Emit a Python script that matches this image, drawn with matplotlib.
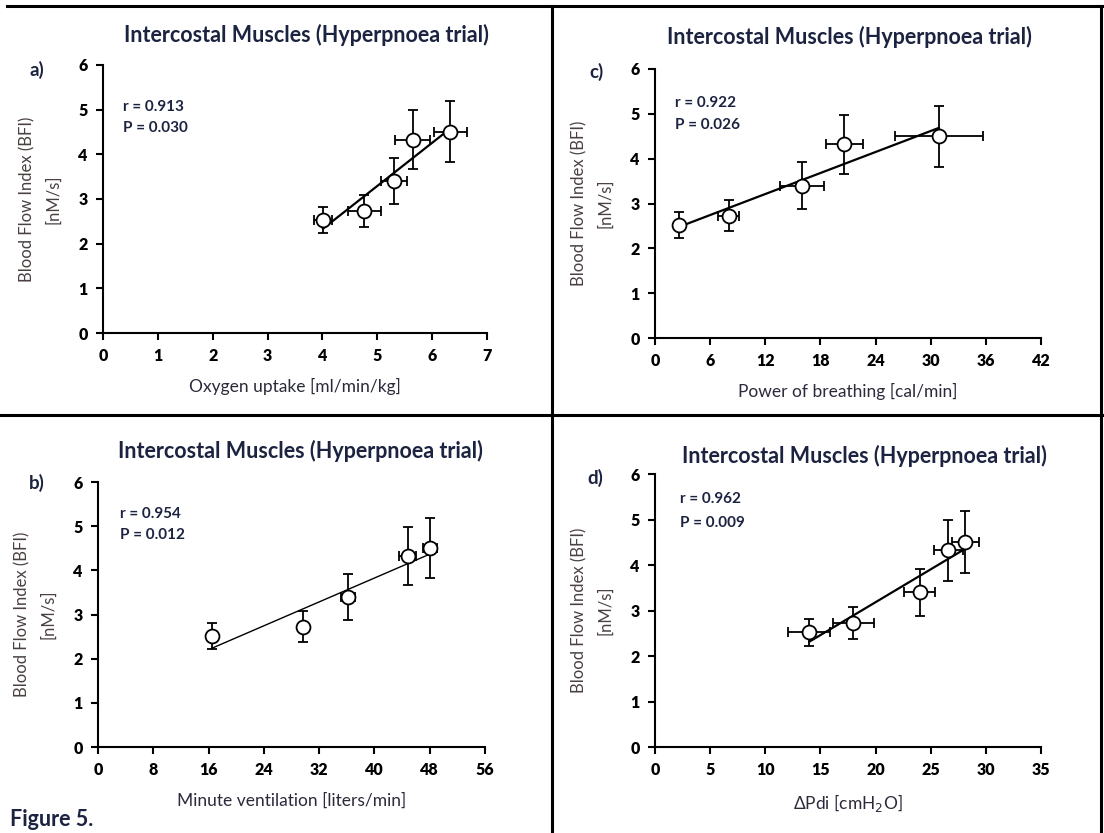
import numpy as np
import matplotlib.pyplot as plt
from matplotlib.lines import Line2D

plt.rcParams['font.family'] = ['Lato', 'DejaVu Sans']

# shared y data (Blood Flow Index)
bfi = [2.52, 2.73, 3.40, 4.32, 4.50]
bfi_err = [0.29, 0.35, 0.52, 0.66, 0.68]

# a) oxygen uptake
vo2 = [4.01, 4.76, 5.31, 5.65, 6.33]
vo2_err = [0.17, 0.30, 0.24, 0.32, 0.30]

# b) minute ventilation
ve = [16.5, 29.7, 36.2, 44.8, 48.1]
ve_err = [0.3, 0.3, 1.0, 1.2, 1.0]

# c) power of breathing
pob = [2.6, 8.0, 16.0, 20.6, 30.9]
pob_err = [0.4, 1.15, 2.35, 2.0, 4.8]

# d) delta Pdi
pdi = [14.0, 18.0, 24.0, 26.6, 28.15]
pdi_err = [1.9, 1.9, 1.4, 1.3, 1.25]

title = 'Intercostal Muscles (Hyperpnoea trial)'
navy = '#1c2340'

panels = [
    # letter, x, xerr, xlim, xticks, xlabel, r, P, axes rect, line width, text pos
    ('a)', vo2, vo2_err, 7, np.arange(0, 8, 1), 'Oxygen uptake [ml/min/kg]',
     'r = 0.913', 'P = 0.030', [0.0933, 0.6002, 0.3478, 0.322], 1.6, (0.052, 0.843, 0.765)),
    ('c)', pob, pob_err, 42, np.arange(0, 43, 6), 'Power of breathing [cal/min]',
     'r = 0.922', 'P = 0.026', [0.5933, 0.5942, 0.3496, 0.323], 1.6, (0.052, 0.874, 0.792)),
    ('b)', ve, ve_err, 56, np.arange(0, 57, 8), 'Minute ventilation [liters/min]',
     'r = 0.954', 'P = 0.012', [0.0888, 0.1032, 0.3505, 0.318], 1.0, (0.057, 0.879, 0.80)),
    ('d)', pdi, pdi_err, 35, np.arange(0, 36, 5), r'ΔPdi [cmH$_2$O]',
     'r = 0.962', 'P = 0.009', [0.5933, 0.1032, 0.3496, 0.3277], 1.6, (0.065, 0.908, 0.82)),
]

fig = plt.figure(figsize=(11.04, 8.33), dpi=100)

for letter, x, xerr, xmax, xticks, xlabel, rtxt, ptxt, rect, lw, tpos in panels:
    ax = fig.add_axes(rect)
    slope, icpt = np.polyfit(x, bfi, 1)
    xs = np.array([min(x), max(x)])
    ax.plot(xs, slope * xs + icpt, color='black', lw=lw, zorder=2)
    ax.errorbar(x, bfi, yerr=bfi_err, xerr=xerr, fmt='o', ms=10, mfc='white',
                mec='black', mew=1.3, ecolor='black', elinewidth=1.3,
                capsize=3.5, capthick=1.3, zorder=3)
    ax.set_xlim(0, xmax)
    ax.set_ylim(0, 6)
    ax.set_xticks(xticks)
    ax.set_yticks(range(7))
    for s in ['top', 'right']:
        ax.spines[s].set_visible(False)
    for s in ['left', 'bottom']:
        ax.spines[s].set_linewidth(1.5)
    ax.tick_params(direction='out', length=5, width=1.5, labelsize=11.5, pad=6)
    for lab in ax.get_xticklabels() + ax.get_yticklabels():
        lab.set_fontweight('heavy')
    ax.set_xlabel(xlabel, fontsize=12.5, color='#2a2a3a', labelpad=10)
    ax.set_ylabel('Blood Flow Index (BFI)\n[nM/s]', fontsize=12, color='#4a4040',
                  labelpad=12, linespacing=1.75)
    ax.text(tpos[0], tpos[1], rtxt, transform=ax.transAxes, fontsize=11,
            fontweight='bold', color=navy, va='center')
    ax.text(tpos[0], tpos[2], ptxt, transform=ax.transAxes, fontsize=11,
            fontweight='bold', color=navy, va='center')

# titles and panel letters (figure pixel positions)
W, H = 1104.0, 833.0
for tx, ty in [(306, 35), (849, 37), (300, 451), (864, 456)]:
    fig.text(tx / W, 1 - ty / H, title, ha='center', va='center', fontsize=15.5,
             fontweight='bold', color=navy)
for lt, lx, ly in [('a)', 37, 70), ('c)', 597, 72), ('b)', 37, 483), ('d)', 595, 478)]:
    fig.text(lx / W, 1 - ly / H, lt, ha='center', va='center', fontsize=13.5,
             fontweight='bold', color=navy)
fig.text(10 / W, 1 - 819 / H, 'Figure 5.', ha='left', va='center', fontsize=15.5,
         fontweight='bold', color=navy)

# frame lines dividing the panels
for xd, yd in [([7, 1102], [6, 6]), ([0, 1104], [415, 415]),
               ([552, 552], [6, 833]), ([1101, 1101], [6, 833])]:
    fig.add_artist(Line2D(np.array(xd) / W, 1 - np.array(yd) / H,
                          color='black', lw=2.2))

fig.savefig('out.png', dpi=100)
